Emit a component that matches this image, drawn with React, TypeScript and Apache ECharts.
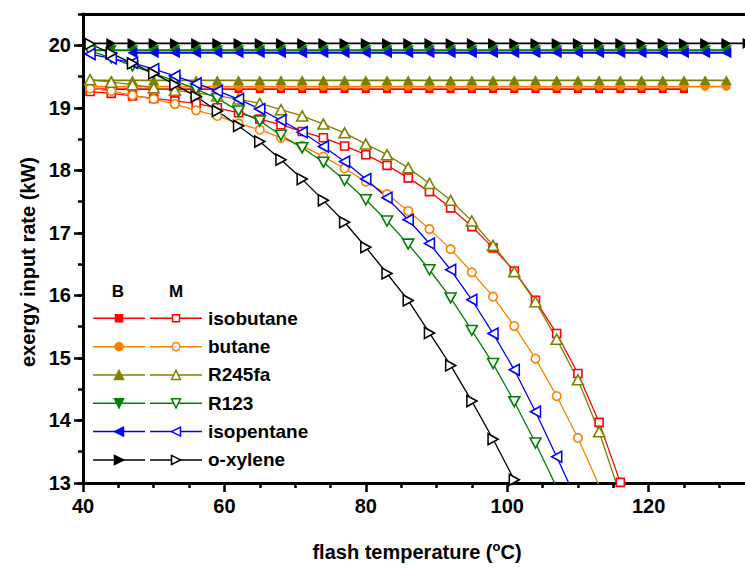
import React, { useEffect, useRef } from "react";
import * as echarts from "echarts";

// ---------- data ----------
const seriesNames = ["isobutane", "butane", "R245fa", "R123", "isopentane", "o-xylene"];

// flash temperature (°C) for the M curves
const tempM = [41, 44, 47, 50, 53, 56, 59, 62, 65, 68, 71, 74, 77, 80, 83, 86, 89, 92, 95, 98, 101, 104, 107, 110, 113, 116];
// flash temperature (°C) for the B curves
const tempB = [41, 44, 47, 50, 53, 56, 59, 62, 65, 68, 71, 74, 77, 80, 83, 86, 89, 92, 95, 98, 101, 104, 107, 110, 113, 116, 119, 122, 125, 128, 131, 134];

// M (open symbols), exergy input rate (kW)
const isobutaneM = [19.26, 19.23, 19.19, 19.15, 19.11, 19.07, 19.0, 18.92, 18.82, 18.73, 18.62, 18.52, 18.39, 18.25, 18.08, 17.88, 17.66, 17.4, 17.1, 16.76, 16.39, 15.92, 15.39, 14.75, 13.97, 13.01];
const butaneM = [19.31, 19.27, 19.2, 19.14, 19.06, 18.96, 18.87, 18.75, 18.65, 18.52, 18.39, 18.22, 18.03, 17.82, 17.62, 17.35, 17.06, 16.74, 16.37, 15.98, 15.51, 14.99, 14.39, 13.72, 12.96];
const r245faM = [19.45, 19.41, 19.37, 19.32, 19.28, 19.24, 19.19, 19.14, 19.07, 18.97, 18.87, 18.74, 18.6, 18.42, 18.25, 18.04, 17.79, 17.52, 17.19, 16.8, 16.38, 15.9, 15.3, 14.65, 13.82, 12.8];
const r123M = [19.91, 19.8, 19.67, 19.55, 19.43, 19.3, 19.15, 18.95, 18.79, 18.56, 18.36, 18.13, 17.84, 17.53, 17.19, 16.82, 16.41, 15.96, 15.44, 14.91, 14.3, 13.64, 12.93];
const isopentaneM = [19.86, 19.79, 19.72, 19.62, 19.51, 19.39, 19.27, 19.14, 18.98, 18.8, 18.61, 18.38, 18.14, 17.86, 17.56, 17.21, 16.83, 16.41, 15.93, 15.39, 14.81, 14.14, 13.42, 12.68];
const oxyleneM = [20.02, 19.87, 19.71, 19.55, 19.37, 19.18, 18.95, 18.71, 18.46, 18.17, 17.86, 17.52, 17.17, 16.77, 16.35, 15.92, 15.4, 14.88, 14.31, 13.7, 13.05];

// B (filled symbols), exergy input rate (kW)
const isobutaneB = [19.3, 19.3, 19.3, 19.3, 19.3, 19.3, 19.3, 19.3, 19.3, 19.3, 19.3, 19.3, 19.3, 19.3, 19.3, 19.3, 19.3, 19.3, 19.3, 19.3, 19.3, 19.3, 19.3, 19.3, 19.3, 19.3, 19.3, 19.3, 19.3];
const butaneB = [19.34, 19.34, 19.34, 19.34, 19.34, 19.34, 19.34, 19.34, 19.34, 19.34, 19.34, 19.34, 19.34, 19.34, 19.34, 19.34, 19.34, 19.34, 19.34, 19.34, 19.34, 19.34, 19.34, 19.34, 19.34, 19.34, 19.34, 19.34, 19.34, 19.34, 19.34];
const r245faB = [19.44, 19.44, 19.44, 19.44, 19.44, 19.44, 19.44, 19.44, 19.44, 19.44, 19.44, 19.44, 19.44, 19.44, 19.44, 19.44, 19.44, 19.44, 19.44, 19.44, 19.44, 19.44, 19.44, 19.44, 19.44, 19.44, 19.44, 19.44, 19.44, 19.44, 19.44];
const r123B = [19.92, 19.92, 19.92, 19.92, 19.92, 19.92, 19.92, 19.92, 19.92, 19.92, 19.92, 19.92, 19.92, 19.92, 19.92, 19.92, 19.92, 19.92, 19.92, 19.92, 19.92, 19.92, 19.92, 19.92, 19.92, 19.92, 19.92, 19.92, 19.92, 19.92, 19.92];
const isopentaneB = [null, null, 19.88, 19.88, 19.88, 19.88, 19.88, 19.88, 19.88, 19.88, 19.88, 19.88, 19.88, 19.88, 19.88, 19.88, 19.88, 19.88, 19.88, 19.88, 19.88, 19.88, 19.88, 19.88, 19.88, 19.88, 19.88, 19.88, 19.88, 19.88, 19.88];
const oxyleneB = [20.03, 20.03, 20.03, 20.03, 20.03, 20.03, 20.03, 20.03, 20.03, 20.03, 20.03, 20.03, 20.03, 20.03, 20.03, 20.03, 20.03, 20.03, 20.03, 20.03, 20.03, 20.03, 20.03, 20.03, 20.03, 20.03, 20.03, 20.03, 20.03, 20.03, 20.03, 20.03];

const yTickLabels = [13, 14, 15, 16, 17, 18, 19, 20];

// ---------- styling ----------
const FONT = 'Arial, "Liberation Sans", sans-serif';
const colors = ["#FF0000", "#FF8000", "#808000", "#008000", "#0000FF", "#000000"];
const markerKinds = ["square", "circle", "up", "down", "left", "right"];
const mValues = [isobutaneM, butaneM, r245faM, r123M, isopentaneM, oxyleneM];
const bValues = [isobutaneB, butaneB, r245faB, r123B, isopentaneB, oxyleneB];

function symbolFor(kind: string) {
  if (kind === "square") return { symbol: "rect", rotate: 0, size: 8 as any };
  if (kind === "circle") return { symbol: "circle", rotate: 0, size: 8.5 as any };
  const rot = kind === "up" ? 0 : kind === "down" ? 180 : kind === "left" ? 90 : -90;
  return { symbol: "triangle", rotate: rot, size: [11, 10] as any };
}

function pairs(ts: number[], vs: (number | null)[]) {
  const out: number[][] = [];
  vs.forEach((v, i) => {
    if (v !== null && v !== undefined) out.push([ts[i], v]);
  });
  return out;
}

function legendMarker(kind: string, cx: number, cy: number, color: string, filled: boolean) {
  const style = { fill: filled ? color : "#fff", stroke: color, lineWidth: 1.5 };
  if (kind === "square") return { type: "rect", shape: { x: cx - 3.5, y: cy - 3.5, width: 7, height: 7 }, style };
  if (kind === "circle") return { type: "circle", shape: { cx, cy, r: 4 }, style };
  const s = 4.5;
  let pts: number[][];
  if (kind === "up") pts = [[cx, cy - s], [cx + s, cy + s], [cx - s, cy + s]];
  else if (kind === "down") pts = [[cx, cy + s], [cx + s, cy - s], [cx - s, cy - s]];
  else if (kind === "left") pts = [[cx - s, cy], [cx + s, cy - s], [cx + s, cy + s]];
  else pts = [[cx + s, cy], [cx - s, cy - s], [cx - s, cy + s]];
  return { type: "polygon", shape: { points: pts }, style };
}

export default function App() {
  const ref = useRef<HTMLDivElement>(null);

  useEffect(() => {
    if (!ref.current) return;
    const chart = echarts.init(ref.current, undefined, { renderer: "svg" });

    const gridLeft = 83;
    const gridTop = 14;
    const gridH = 469;
    const gridW = 707; // 40 .. 140 (cropped at the right like the reference)
    const unitH = gridH / 7.5;

    const series: any[] = [];
    // B series (filled)
    seriesNames.forEach((name, i) => {
      const s = symbolFor(markerKinds[i]);
      series.push({
        type: "line",
        name: name + " B",
        xAxisIndex: 0,
        yAxisIndex: 0,
        data: pairs(tempB, bValues[i]),
        symbol: s.symbol,
        symbolRotate: s.rotate,
        symbolSize: s.size,
        lineStyle: { color: colors[i], width: 1.8 },
        itemStyle: { color: colors[i], borderWidth: 0 },
        silent: true,
        clip: true,
        z: 2,
      });
    });
    // M series (open)
    seriesNames.forEach((name, i) => {
      const s = symbolFor(markerKinds[i]);
      series.push({
        type: "line",
        name: name + " M",
        xAxisIndex: 0,
        yAxisIndex: 0,
        data: pairs(tempM, mValues[i]),
        symbol: s.symbol,
        symbolRotate: s.rotate,
        symbolSize: s.size,
        lineStyle: { color: colors[i], width: 1.3 },
        itemStyle: { color: "#ffffff", borderColor: colors[i], borderWidth: 1.6 },
        silent: true,
        clip: true,
        z: 3,
      });
    });

    // legend graphics
    const graphics: any[] = [];
    const rowY0 = 318.3;
    const rowStep = 28.33;
    graphics.push({ type: "text", x: 118, y: 291, style: { text: "B", font: `bold 17px ${FONT}`, fill: "#000", align: "center", verticalAlign: "middle", textAlign: "center", textVerticalAlign: "middle" } });
    graphics.push({ type: "text", x: 176, y: 291, style: { text: "M", font: `bold 17px ${FONT}`, fill: "#000", align: "center", verticalAlign: "middle", textAlign: "center", textVerticalAlign: "middle" } });
    seriesNames.forEach((name, i) => {
      const y = rowY0 + i * rowStep;
      graphics.push({ type: "line", shape: { x1: 93, y1: y, x2: 145, y2: y }, style: { stroke: colors[i], lineWidth: 1.5 } });
      graphics.push(legendMarker(markerKinds[i], 119, y, colors[i], true));
      graphics.push({ type: "line", shape: { x1: 150, y1: y, x2: 202, y2: y }, style: { stroke: colors[i], lineWidth: 1.5 } });
      graphics.push(legendMarker(markerKinds[i], 176, y, colors[i], false));
      graphics.push({ type: "text", x: 208, y: y, style: { text: name, font: `bold 19px ${FONT}`, fill: "#000", align: "left", verticalAlign: "middle", textAlign: "left", textVerticalAlign: "middle" } });
    });
    // axis titles
    graphics.push({
      type: "text",
      x: 28,
      y: 262,
      rotation: Math.PI / 2,
      style: { text: "exergy input rate (kW)", font: `bold 20px ${FONT}`, fill: "#000", align: "center", verticalAlign: "middle", textAlign: "center", textVerticalAlign: "middle" },
    });
    graphics.push({
      type: "text",
      x: 417,
      y: 552,
      style: {
        text: "flash temperature ({sup|o}C)",
        fontSize: 20,
        fontWeight: "bold",
        fontFamily: FONT,
        fill: "#000",
        align: "center",
        verticalAlign: "middle",
        textAlign: "center",
        textVerticalAlign: "middle",
        lineHeight: 24,
        rich: { sup: { fontSize: 13, fontWeight: "bold", fontFamily: FONT, fill: "#000", verticalAlign: "top", lineHeight: 14, padding: [0, 0, 10, 0] } },
      },
    });

    const option: any = {
      animation: false,
      backgroundColor: "#ffffff",
      grid: [
        { left: gridLeft, top: gridTop, width: gridW, height: gridH, outerBoundsMode: "none", containLabel: false },
        { left: gridLeft, top: gridTop + 0.5 * unitH, width: gridW, height: 7 * unitH, outerBoundsMode: "none", containLabel: false },
      ],
      xAxis: [
        {
          type: "value",
          gridIndex: 0,
          position: "bottom",
          min: 40,
          max: 140,
          interval: 20,
          axisLine: { onZero: false, lineStyle: { color: "#000", width: 3 } },
          axisTick: { length: 9, lineStyle: { color: "#000", width: 2.5 } },
          minorTick: { show: true, splitNumber: 4, length: 5, lineStyle: { color: "#000", width: 2.5 } },
          splitLine: { show: false },
          minorSplitLine: { show: false },
          axisLabel: {
            fontSize: 20,
            fontWeight: "bold",
            fontFamily: FONT,
            color: "#000",
            margin: 13,
            hideOverlap: false,
            showMaxLabel: false,
            formatter: (v: number) => (v > 130 ? "" : String(v)),
          },
        },
        {
          type: "value",
          gridIndex: 0,
          position: "top",
          min: 40,
          max: 140,
          interval: 20,
          axisLine: { onZero: false, lineStyle: { color: "#000", width: 3 } },
          axisTick: { show: false },
          axisLabel: { show: false },
          splitLine: { show: false },
        },
        { type: "value", gridIndex: 1, min: 40, max: 140, show: false },
      ],
      yAxis: [
        {
          type: "value",
          gridIndex: 0,
          position: "left",
          min: 13,
          max: 20.5,
          interval: 0.5,
          axisLine: { onZero: false, lineStyle: { color: "#000", width: 3 } },
          axisTick: { length: 5, lineStyle: { color: "#000", width: 2.5 } },
          axisLabel: { show: false },
          splitLine: { show: false },
        },
        {
          type: "value",
          gridIndex: 1,
          position: "left",
          min: yTickLabels[0],
          max: yTickLabels[yTickLabels.length - 1],
          interval: 1,
          axisLine: { show: false, onZero: false },
          axisTick: { length: 9, lineStyle: { color: "#000", width: 2.5 } },
          axisLabel: { fontSize: 20, fontWeight: "bold", fontFamily: FONT, color: "#000", margin: 12 },
          splitLine: { show: false },
        },
      ],
      series,
      graphic: graphics,
    };

    chart.setOption(option);
    return () => {
      chart.dispose();
    };
  }, []);

  return (
    <div
      ref={ref}
      style={{ position: "fixed", left: 0, top: 0, width: 745, height: 568, overflow: "hidden", background: "#fff" }}
    />
  );
}
